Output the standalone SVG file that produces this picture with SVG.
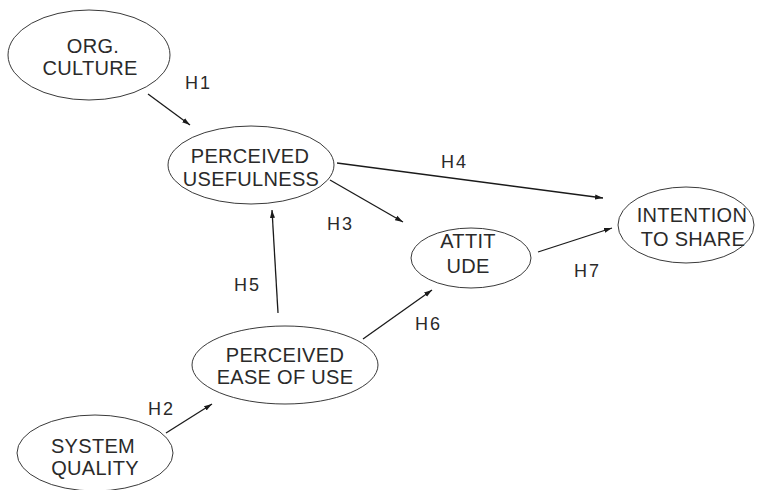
<svg xmlns="http://www.w3.org/2000/svg" width="757" height="490" viewBox="0 0 757 490">
<defs>
<marker id="ah" markerWidth="9" markerHeight="7" refX="8" refY="3.5" orient="auto" markerUnits="userSpaceOnUse">
<path d="M0,1 L8,3.5 L0,6 Z" fill="#1a1a1a"/>
</marker>
<style>
ellipse{fill:#fff;stroke:#3a3a3a;stroke-width:1}
.t{font-family:"Liberation Sans",Arial,sans-serif;font-size:20px;fill:#2a2a2a;text-anchor:middle;letter-spacing:0.3px}
.l{font-family:"Liberation Sans",Arial,sans-serif;font-size:18px;fill:#2a2a2a;letter-spacing:2px}
.c line{stroke:#1a1a1a;stroke-width:1.3;marker-end:url(#ah)}
</style>
</defs>
<rect width="757" height="490" fill="#fff"/>
<g class="c" id="connectors">
<line x1="148" y1="94" x2="190" y2="125"/>
<line x1="337" y1="163" x2="603" y2="198"/>
<line x1="330" y1="180" x2="403" y2="222"/>
<line x1="538" y1="252" x2="612" y2="228"/>
<line x1="363" y1="339" x2="432" y2="290"/>
<line x1="278" y1="313" x2="272" y2="210"/>
<line x1="166" y1="433" x2="212" y2="404"/>
</g>
<g id="labels">
<text class="l" x="185" y="89">H1</text>
<text class="l" x="441" y="168">H4</text>
<text class="l" x="327" y="230">H3</text>
<text class="l" x="574" y="277">H7</text>
<text class="l" x="415" y="330">H6</text>
<text class="l" x="234" y="291">H5</text>
<text class="l" x="148" y="415">H2</text>
</g>
<g id="org-culture">
<ellipse cx="89" cy="55" rx="81" ry="45"/>
<text class="t" x="93" y="53">ORG.</text>
<text class="t" x="90" y="75">CULTURE</text>
</g>
<g id="perceived-usefulness">
<ellipse cx="251" cy="165" rx="83" ry="39"/>
<text class="t" x="250" y="163">PERCEIVED</text>
<text class="t" x="251" y="186">USEFULNESS</text>
</g>
<g id="attitude">
<ellipse cx="471" cy="258" rx="60" ry="30"/>
<text class="t" x="468" y="248">ATTIT</text>
<text class="t" x="468" y="273">UDE</text>
</g>
<g id="intention-to-share">
<ellipse cx="686" cy="225" rx="68" ry="38"/>
<text class="t" x="692" y="222">INTENTION</text>
<text class="t" x="693" y="246">TO SHARE</text>
</g>
<g id="perceived-ease-of-use">
<ellipse cx="285" cy="365" rx="93" ry="39"/>
<text class="t" x="285" y="362">PERCEIVED</text>
<text class="t" x="285" y="384">EASE OF USE</text>
</g>
<g id="system-quality">
<ellipse cx="95" cy="453" rx="78" ry="38"/>
<text class="t" x="93" y="453">SYSTEM</text>
<text class="t" x="95" y="475">QUALITY</text>
</g>
</svg>
